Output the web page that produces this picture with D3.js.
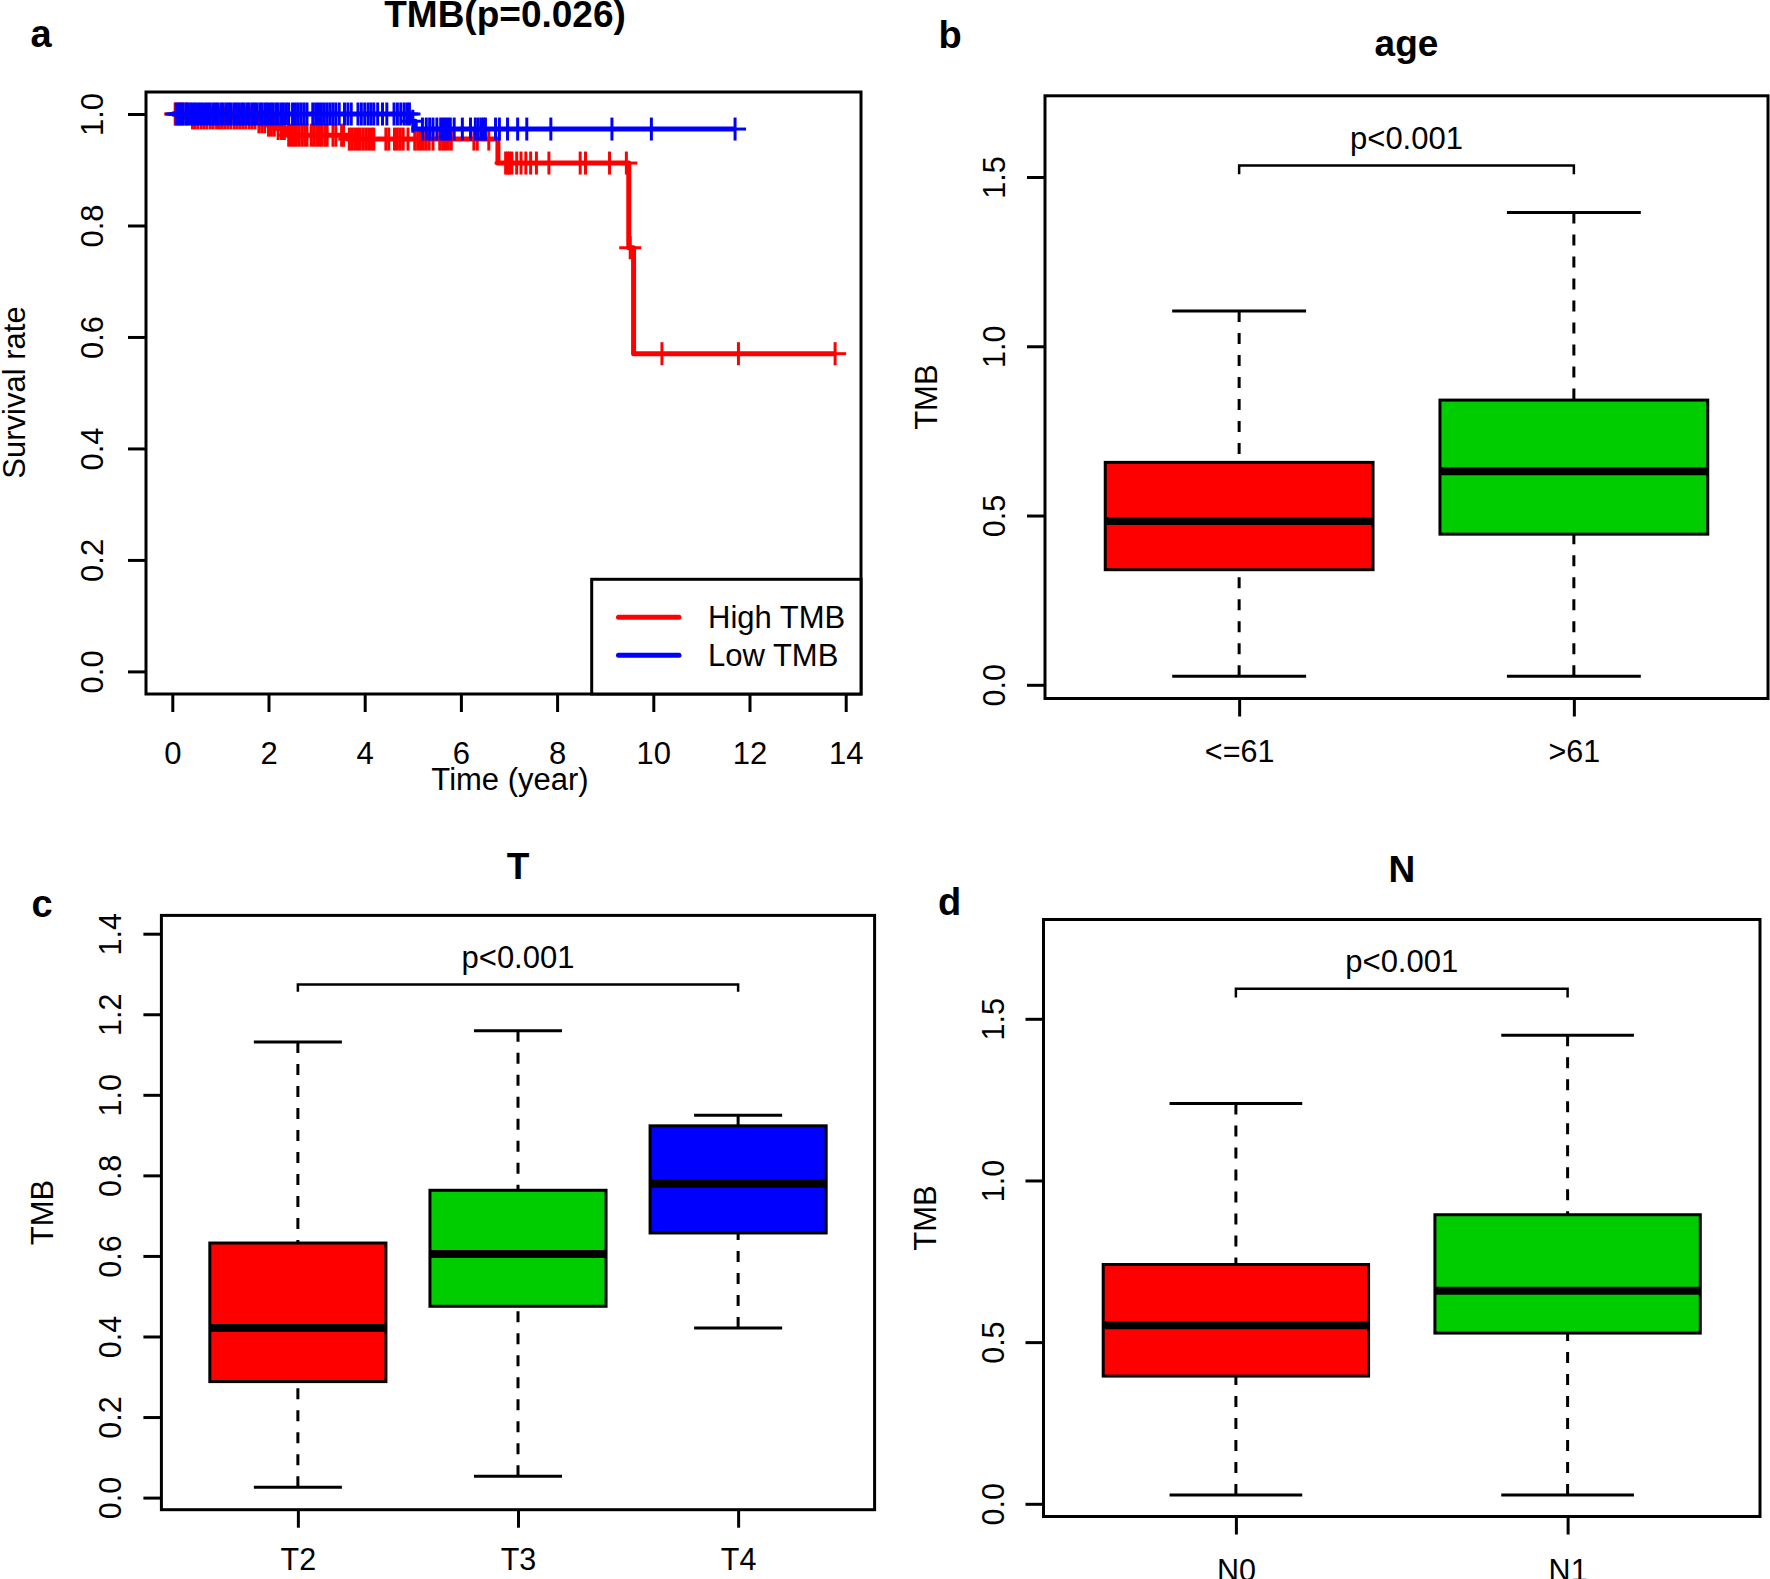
<!DOCTYPE html>
<html><head><meta charset="utf-8">
<script src="https://cdn.jsdelivr.net/npm/d3@7"></script>
<style>
body{margin:0;background:#fff;}
svg text{font-family:"Liberation Sans",Arial,Helvetica,sans-serif;fill:#000;}
</style>
</head><body>
<svg id="chart" width="1770" height="1579"></svg>
<script>
// ---------------- DATA ----------------
// Panel a: Kaplan-Meier survival (High TMB vs Low TMB)
const kmTicksX = [0, 2, 4, 6, 8, 10, 12, 14];
const kmTicksY = [0, 0.2, 0.4, 0.6, 0.8, 1.0];
const kmSeries = ["High TMB", "Low TMB"];

const highStepTimes = [0, 0.38, 1.77, 1.98, 2.18, 2.39, 3.64, 6.77, 9.49, 9.59];
const highStepSurv  = [1, 0.993, 0.986, 0.980, 0.974, 0.962, 0.955, 0.912, 0.760, 0.570];
const highEndTime = 13.78;
const highCensor = [0.06, 0.15, 0.22, 0.30,
  0.42, 0.47, 0.53, 0.60, 0.66, 0.72, 0.79, 0.85, 0.92, 0.98, 1.04, 1.10, 1.16, 1.22, 1.29, 1.35, 1.41, 1.47, 1.53, 1.60, 1.66, 1.72,
  1.80, 1.86, 1.92, 2.00, 2.06, 2.12, 2.20, 2.27, 2.33,
  2.42, 2.47, 2.52, 2.58, 2.63, 2.69, 2.75, 2.80, 2.89, 2.94, 3.00, 3.06, 3.11, 3.17, 3.22, 3.34, 3.40, 3.52, 3.56,
  3.68, 3.73, 3.79, 3.85, 3.90, 3.96, 4.02, 4.08, 4.14, 4.19, 4.44, 4.50, 4.62, 4.68, 4.74, 4.80, 4.90,
  5.04, 5.10, 5.16, 5.22, 5.28, 5.34, 5.42, 5.56, 5.62, 5.68, 5.74, 5.80, 6.27, 6.34, 6.58,
  6.93, 6.97, 7.01, 7.06, 7.16, 7.25, 7.35, 7.45, 7.57, 7.83, 8.48, 8.59, 9.09, 9.44,
  9.52, 10.18, 11.77, 13.78];

const lowStepTimes = [0, 4.97, 5.05];
const lowStepSurv  = [1, 0.987, 0.973];
const lowEndTime = 11.70;
const lowCensor = [0.08, 0.12, 0.17, 0.22, 0.28, 0.33, 0.38, 0.43, 0.48, 0.53, 0.58, 0.63, 0.69, 0.74, 0.79, 0.85, 0.90, 0.95,
  1.01, 1.06, 1.12, 1.17, 1.22, 1.28, 1.33, 1.38, 1.44, 1.49, 1.55, 1.60, 1.66, 1.71, 1.76, 1.82, 1.87, 1.93, 1.98,
  2.04, 2.09, 2.15, 2.20, 2.26, 2.31, 2.37, 2.42, 2.50, 2.56, 2.62, 2.68, 2.74, 2.80, 2.92, 2.98,
  3.04, 3.10, 3.16, 3.22, 3.28, 3.34, 3.40, 3.47, 3.58, 3.65, 3.72, 3.86, 3.93, 4.00, 4.07, 4.13, 4.19, 4.27, 4.37, 4.46,
  4.61, 4.68, 4.75, 4.82, 4.88, 4.93, 5.00,
  5.20, 5.28, 5.35, 5.42, 5.50, 5.58, 5.63, 5.68, 5.73, 5.78, 5.86, 6.03, 6.20, 6.30, 6.36, 6.42, 6.47, 6.51,
  6.72, 6.80, 6.97, 7.18, 7.37, 7.87, 9.14, 9.96, 11.70];

// Panel b: age   stats = [lower whisker, Q1, median, Q3, upper whisker]
const ageGroups = ["<=61", ">61"];
const ageStats = [[0.025, 0.340, 0.484, 0.657, 1.104],
                  [0.025, 0.445, 0.631, 0.841, 1.395]];
const ageTicks = [0, 0.5, 1.0, 1.5];
const ageBracket = [1.534, 1.508];

// Panel c: T stage
const tGroups = ["T2", "T3", "T4"];
const tStats = [[0.026, 0.288, 0.421, 0.632, 1.131],
                [0.053, 0.475, 0.605, 0.763, 1.159],
                [0.421, 0.657, 0.779, 0.923, 0.949]];
const tTicks = [0, 0.2, 0.4, 0.6, 0.8, 1.0, 1.2, 1.4];
const tBracket = [1.274, 1.256];

// Panel d: N stage
const nGroups = ["N0", "N1"];
const nStats = [[0.027, 0.395, 0.552, 0.740, 1.238],
                [0.027, 0.528, 0.659, 0.894, 1.449]];
const nTicks = [0, 0.5, 1.0, 1.5];
const nBracket = [1.593, 1.566];

// ---------------- STYLE ----------------
const RED = "#FF0000", GREEN = "#00CD00", BLUE = "#0000FF";
const FONT = 30.5, TITLE_FONT = 37, LETTER_FONT = 38;

const svg = d3.select("#chart");
svg.append("rect").attr("width", 1770).attr("height", 1579).attr("fill", "#fff");

function styleAxis(g){
  g.attr("font-family", null).attr("font-size", null);
  g.select(".domain").remove();
  g.selectAll(".tick line").attr("stroke", "#000").attr("stroke-width", 3);
  g.selectAll(".tick text").style("font-size", FONT + "px");
}

// ---------------- PANEL A ----------------
(function(){
  const L = 146, R = 861, T = 92, B = 694;
  const x = d3.scaleLinear().domain([0, 14]).range([172.3, 845.7]);
  const y = d3.scaleLinear().domain([0, 1]).range([671.4, 114]);
  const g = svg.append("g");

  function drawKM(times, surv, endT, censor, color){
    const pts = times.map((t, i) => [t, surv[i]]);
    pts.push([endT, surv[surv.length - 1]]);
    g.append("path")
      .attr("d", d3.line().x(d => x(d[0])).y(d => y(d[1])).curve(d3.curveStepAfter)(pts))
      .attr("fill", "none").attr("stroke", color).attr("stroke-width", 5)
      .attr("stroke-linejoin", "round");
    const S = t => { let s = surv[0]; times.forEach((tt, i) => { if (tt <= t) s = surv[i]; }); return s; };
    const m = g.append("g").attr("stroke", color).attr("stroke-width", 3);
    censor.forEach(t => {
      const cx = x(t), cy = y(S(t));
      m.append("line").attr("x1", cx).attr("x2", cx).attr("y1", cy - 11.5).attr("y2", cy + 11.5);
      m.append("line").attr("x1", cx - 11).attr("x2", cx + 11).attr("y1", cy).attr("y2", cy);
    });
  }
  drawKM(highStepTimes, highStepSurv, highEndTime, highCensor, RED);
  drawKM(lowStepTimes, lowStepSurv, lowEndTime, lowCensor, BLUE);

  g.append("rect").attr("x", L).attr("y", T).attr("width", R - L).attr("height", B - T)
    .attr("fill", "none").attr("stroke", "#000").attr("stroke-width", 3);

  const ax = g.append("g").attr("transform", `translate(0,${B})`)
    .call(d3.axisBottom(x).tickValues(kmTicksX).tickSize(18).tickFormat(d3.format("d")));
  styleAxis(ax);
  ax.selectAll(".tick text").attr("y", 70).attr("dy", 0).style("font-size", "31px");

  const ay = g.append("g").attr("transform", `translate(${L},0)`)
    .call(d3.axisLeft(y).tickValues(kmTicksY).tickSize(18).tickFormat(d3.format(".1f")));
  styleAxis(ay);
  ay.selectAll(".tick text").attr("x", 0).attr("dy", 0).attr("text-anchor", "middle")
    .attr("transform", "translate(-43,0) rotate(-90)").style("font-size", "31px");

  g.append("text").attr("x", 510).attr("y", 790).attr("text-anchor", "middle")
    .style("font-size", "31px").text("Time (year)");
  g.append("text").attr("transform", "translate(25,392.5) rotate(-90)").attr("text-anchor", "middle")
    .style("font-size", "31px").text("Survival rate");
  g.append("text").attr("x", 505).attr("y", 27).attr("text-anchor", "middle")
    .style("font-size", TITLE_FONT + "px").style("font-weight", "bold").text("TMB(p=0.026)");
  g.append("text").attr("x", 41).attr("y", 47).attr("text-anchor", "middle")
    .style("font-size", LETTER_FONT + "px").style("font-weight", "bold").text("a");

  // legend
  const lg = g.append("g");
  lg.append("rect").attr("x", 591.7).attr("y", 579.3).attr("width", R - 591.7).attr("height", B - 579.3)
    .attr("fill", "#fff").attr("stroke", "#000").attr("stroke-width", 3);
  [RED, BLUE].forEach((c, i) => {
    const yy = 617.3 + i * 38;
    lg.append("line").attr("x1", 618.5).attr("x2", 679).attr("y1", yy).attr("y2", yy)
      .attr("stroke", c).attr("stroke-width", 5).attr("stroke-linecap", "round");
    lg.append("text").attr("x", 708).attr("y", yy + 11).style("font-size", "31px").text(kmSeries[i]);
  });
})();

// ---------------- BOX PANELS ----------------
function boxPanel(cfg){
  const n = cfg.groups.length;
  const x = d3.scaleLinear().domain([0.5 - 0.04 * n, n + 0.5 + 0.04 * n]).range([cfg.left, cfg.right]);
  const y = d3.scaleLinear().domain([0, cfg.refVal]).range([cfg.y0px, cfg.refPx]);
  const hw = (x(2) - x(1)) * 0.4, cw = hw / 2;
  const g = svg.append("g");

  cfg.stats.forEach((s, i) => {
    const cx = x(i + 1);
    [[s[0], s[1]], [s[4], s[3]]].forEach(([a, b]) => {
      g.append("line").attr("x1", cx).attr("x2", cx).attr("y1", y(a)).attr("y2", y(b))
        .attr("stroke", "#000").attr("stroke-width", 3).attr("stroke-dasharray", "11,11");
    });
    [s[0], s[4]].forEach(v => {
      g.append("line").attr("x1", cx - cw).attr("x2", cx + cw).attr("y1", y(v)).attr("y2", y(v))
        .attr("stroke", "#000").attr("stroke-width", 3);
    });
    g.append("rect").attr("x", cx - hw).attr("y", y(s[3])).attr("width", 2 * hw).attr("height", y(s[1]) - y(s[3]))
      .attr("fill", cfg.colors[i]).attr("stroke", "#000").attr("stroke-width", 3);
    g.append("line").attr("x1", cx - hw).attr("x2", cx + hw).attr("y1", y(s[2])).attr("y2", y(s[2]))
      .attr("stroke", "#000").attr("stroke-width", 8);
  });

  g.append("rect").attr("x", cfg.left).attr("y", cfg.top).attr("width", cfg.right - cfg.left).attr("height", cfg.bottom - cfg.top)
    .attr("fill", "none").attr("stroke", "#000").attr("stroke-width", 3);

  const ax = g.append("g").attr("transform", `translate(0,${cfg.bottom})`)
    .call(d3.axisBottom(x).tickValues(d3.range(1, n + 1)).tickSize(18).tickFormat(i => cfg.groups[i - 1]));
  styleAxis(ax);
  ax.selectAll(".tick text").attr("y", cfg.xLabOff).attr("dy", 0);

  const ay = g.append("g").attr("transform", `translate(${cfg.left},0)`)
    .call(d3.axisLeft(y).tickValues(cfg.ticks).tickSize(18).tickFormat(d3.format(".1f")));
  styleAxis(ay);
  ay.selectAll(".tick text").attr("x", 0).attr("dy", 0).attr("text-anchor", "middle")
    .attr("transform", "translate(-40,0) rotate(-90)");

  const x1 = x(1), x2 = x(n), yb = y(cfg.bracket[0]), ye = y(cfg.bracket[1]);
  g.append("path").attr("d", `M${x1},${ye}L${x1},${yb}L${x2},${yb}L${x2},${ye}`)
    .attr("fill", "none").attr("stroke", "#000").attr("stroke-width", 2.5);
  g.append("text").attr("x", (x1 + x2) / 2).attr("y", yb - 16.5).attr("text-anchor", "middle")
    .style("font-size", "31px").text("p<0.001");

  const mid = (cfg.top + cfg.bottom) / 2;
  g.append("text").attr("transform", `translate(${cfg.left - 108},${mid}) rotate(-90)`).attr("text-anchor", "middle")
    .style("font-size", "31px").text("TMB");
  g.append("text").attr("x", (cfg.left + cfg.right) / 2).attr("y", cfg.titleY).attr("text-anchor", "middle")
    .style("font-size", TITLE_FONT + "px").style("font-weight", "bold").text(cfg.title);
  g.append("text").attr("x", cfg.letterX).attr("y", cfg.letterY).attr("text-anchor", "middle")
    .style("font-size", LETTER_FONT + "px").style("font-weight", "bold").text(cfg.letter);
}

boxPanel({groups: ageGroups, stats: ageStats, ticks: ageTicks, bracket: ageBracket, colors: [RED, GREEN],
  left: 1045, right: 1768, top: 95.8, bottom: 698.5, y0px: 684.8, refVal: 1.5, refPx: 177,
  xLabOff: 63.5, title: "age", titleY: 56, letter: "b", letterX: 950, letterY: 48});

boxPanel({groups: tGroups, stats: tStats, ticks: tTicks, bracket: tBracket, colors: [RED, GREEN, BLUE],
  left: 161.4, right: 874.6, top: 915.4, bottom: 1509.7, y0px: 1497.6, refVal: 1.4, refPx: 933.7,
  xLabOff: 60.5, title: "T", titleY: 879, letter: "c", letterX: 42, letterY: 917});

boxPanel({groups: nGroups, stats: nStats, ticks: nTicks, bracket: nBracket, colors: [RED, GREEN],
  left: 1043.5, right: 1760, top: 919.5, bottom: 1516.5, y0px: 1503.8, refVal: 1.5, refPx: 1018.8,
  xLabOff: 64.5, title: "N", titleY: 882, letter: "d", letterX: 949.5, letterY: 914.6});
</script>
</body></html>
